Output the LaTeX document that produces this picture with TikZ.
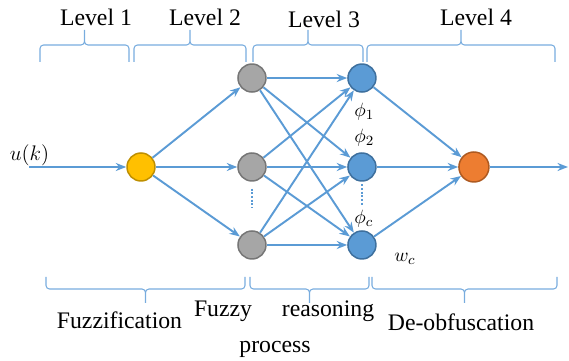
\documentclass[tikz,border=0pt]{standalone}
\usepackage{fontspec}
\setmainfont{Liberation Serif}
\usepackage{tikz}
\usetikzlibrary{positioning, arrows.meta}
\definecolor{linkblue}{RGB}{91,155,213}
\definecolor{bracecol}{RGB}{120,172,222}
\definecolor{yellowfill}{RGB}{255,192,0}
\definecolor{yellowedge}{RGB}{190,143,0}
\definecolor{grayfill}{RGB}{166,166,166}
\definecolor{grayedge}{RGB}{118,118,118}
\definecolor{bluefill}{RGB}{91,155,213}
\definecolor{blueedge}{RGB}{62,112,158}
\definecolor{orangefill}{RGB}{237,125,49}
\definecolor{orangeedge}{RGB}{174,90,33}
\tikzstyle{fuzznode} = [circle, minimum size=0.56cm, inner sep=0pt, line width=0.85pt, draw=yellowedge, fill=yellowfill]
\tikzstyle{membnode} = [circle, minimum size=0.56cm, inner sep=0pt, line width=0.85pt, draw=grayedge, fill=grayfill]
\tikzstyle{rulenode} = [circle, minimum size=0.56cm, inner sep=0pt, line width=0.85pt, draw=blueedge, fill=bluefill]
\tikzstyle{outnode} = [circle, minimum size=0.6cm, inner sep=0pt, line width=0.85pt, draw=orangeedge, fill=orangefill]
\tikzstyle{arrow} = [line width=1.1pt, draw=linkblue, -{Stealth[length=6pt, width=4.6pt, inset=2pt]}]
\tikzstyle{dotline} = [line width=1.5pt, draw=linkblue, dash pattern=on 1.1pt off 1pt]
\tikzstyle{bracepath} = [line width=0.6pt, draw=bracecol, rounded corners=2pt]
\tikzstyle{lbl} = [font=\rmfamily\fontsize{13.5}{16}\selectfont, anchor=base, inner sep=0pt]
\tikzstyle{mlbl} = [font=\fontsize{11}{13}\selectfont, anchor=base west, inner sep=0pt]
% x1, x2, end y, bar y, tip y
\newcommand{\levelbrace}[5]{%
  \draw [bracepath] (#1,#3) -- (#1,#4) -- ({(#1+#2)/2},#4) -- ({(#1+#2)/2},#5)
    (#2,#3) -- (#2,#4) -- ({(#1+#2)/2},#4) -- ({(#1+#2)/2},#5);}

\begin{document}
\begin{tikzpicture}[x=0.02cm, y=-0.02cm, on grid]
	\useasboundingbox (0,0) rectangle (569,361);

	\node (Fuzz) [fuzznode] at (141,167) {};
	\node (Memb2) [membnode, right=2.22cm of Fuzz] {};
	\node (Memb1) [membnode, above=1.78cm of Memb2] {};
	\node (Memb3) [membnode, below=1.56cm of Memb2] {};
	\node (Rule2) [rulenode, right=2.2cm of Memb2] {};
	\node (Rule1) [rulenode, above=1.78cm of Rule2] {};
	\node (Rule3) [rulenode, below=1.56cm of Rule2] {};
	\node (Defuzz) [outnode, right=2.24cm of Rule2] {};
	\coordinate (In) at (29,167);
	\coordinate (Out) at (568,167);

	\node (uk) [lbl, font=\fontsize{12}{14}\selectfont] at (29.5,161) {$u(k)$};
	\node (phi1) [mlbl] at (354,117) {$\phi_1$};
	\node (phi2) [mlbl] at (354,142.5) {$\phi_2$};
	\node (phic) [mlbl] at (354,223.5) {$\phi_c$};
	\node (wc) [mlbl] at (394,262) {$w_c$};

	\draw [arrow] (In) -- (Fuzz);
	\draw [arrow] (Fuzz) -- (Memb1);
	\draw [arrow] (Fuzz) -- (Memb2);
	\draw [arrow] (Fuzz) -- (Memb3);
	\draw [arrow] (Memb1) -- (Rule1);
	\draw [arrow] (Memb1) -- (Rule2);
	\draw [arrow] (Memb1) -- (Rule3);
	\draw [arrow] (Memb2) -- (Rule1);
	\draw [arrow] (Memb2) -- (Rule2);
	\draw [arrow] (Memb2) -- (Rule3);
	\draw [arrow] (Memb3) -- (Rule1);
	\draw [arrow] (Memb3) -- (Rule2);
	\draw [arrow] (Memb3) -- (Rule3);
	\draw [arrow] (Rule1) -- (Defuzz);
	\draw [arrow] (Rule2) -- (Defuzz);
	\draw [arrow] (Rule3) -- (Defuzz);
	\draw [arrow] (Defuzz) -- (Out);
	\draw [dotline, shorten <=0.14cm, shorten >=0.44cm] (Memb2) -- (Memb3);
	\draw [dotline, shorten <=0.05cm, shorten >=0.48cm] (Rule2) -- (Rule3);

	% levels on top
	\levelbrace{40}{129}{62}{45}{30}
	\levelbrace{134}{246}{62}{45}{30}
	\levelbrace{253}{363}{62}{45}{30}
	\levelbrace{367}{555}{62}{45}{30}
	\node (lv1) [lbl] at (96,26) {Level 1};
	\node (lv2) [lbl] at (205,26) {Level 2};
	\node (lv3) [lbl] at (324,27.7) {Level 3};
	\node (lv4) [lbl] at (476,26) {Level 4};

	% stages below
	\levelbrace{46}{245}{277}{289}{303}
	\levelbrace{250}{369}{277}{289}{303}
	\levelbrace{372}{557}{277}{289}{303}
	\node (fuzzific) [lbl] at (119.5,329) {Fuzzification};
	\node (fuzzy) [lbl] at (223,316.5) {Fuzzy};
	\node (reason) [lbl] at (328,317) {reasoning};
	\node (process) [lbl] at (275,353) {process};
	\node (deob) [lbl] at (461,331) {De-obfuscation};
\end{tikzpicture}
\end{document}
